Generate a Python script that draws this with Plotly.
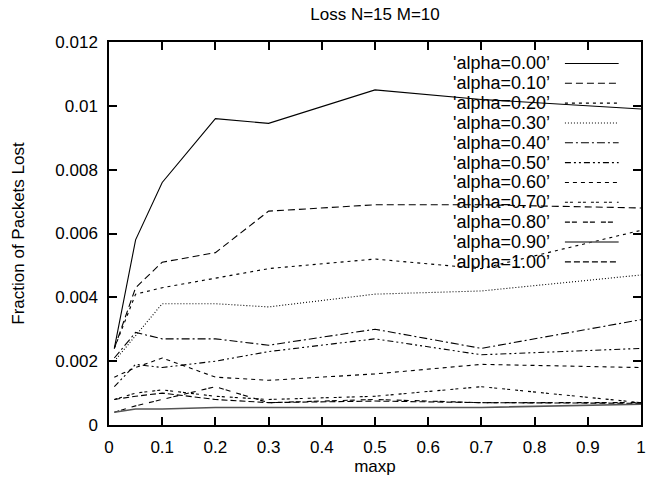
import plotly.graph_objects as go

maxp = [0.01, 0.05, 0.1, 0.2, 0.3, 0.5, 0.7, 1.0]

labels = ["'alpha=0.00’", "'alpha=0.10’", "'alpha=0.20’", "'alpha=0.30’",
          "'alpha=0.40’", "'alpha=0.50’", "'alpha=0.60’", "'alpha=0.70’",
          "'alpha=0.80’", "'alpha=0.90’", "'alpha=1.00’"]

a00 = [0.0024, 0.0058, 0.0076, 0.0096, 0.00945, 0.0105, 0.0102, 0.0099]
a10 = [0.0024, 0.0043, 0.0051, 0.0054, 0.0067, 0.0069, 0.0069, 0.0068]
a20 = [0.0024, 0.0041, 0.0043, 0.0046, 0.0049, 0.0052, 0.0049, 0.0061]
a30 = [0.0020, 0.0028, 0.0038, 0.0038, 0.0037, 0.0041, 0.0042, 0.0047]
a40 = [0.0021, 0.0029, 0.0027, 0.0027, 0.0025, 0.0030, 0.0024, 0.0033]
a50 = [0.0012, 0.0019, 0.0018, 0.0020, 0.0023, 0.0027, 0.0022, 0.0024]
a60 = [0.0015, 0.0018, 0.0021, 0.0015, 0.0014, 0.0016, 0.0019, 0.0018]
a70 = [0.0008, 0.0010, 0.0011, 0.0009, 0.0008, 0.0009, 0.0012, 0.0007]
a80 = [0.0004, 0.0006, 0.0008, 0.0012, 0.0007, 0.0008, 0.0007, 0.0007]
a90 = [0.0004, 0.0005, 0.0005, 0.00055, 0.00055, 0.00055, 0.00055, 0.00065]
a100 = [0.0008, 0.0009, 0.0010, 0.0008, 0.0007, 0.00075, 0.0007, 0.00068]

series = [a00, a10, a20, a30, a40, a50, a60, a70, a80, a90, a100]

dashes = ["solid", "7px,4px", "3px,4px", "1px,2px", "8px,3px,2px,3px",
          "6px,3px,2px,3px,2px,3px", "4px,4px", "3px,2px,3px,5px",
          "5px,2px,5px,6px", "solid", "6px,3px"]
colors = ["#000"] * 9 + ["#555", "#000"]
widths = [1.1] * 9 + [1.6, 1.1]

FONT = "Liberation Sans, Arial, sans-serif"

fig = go.Figure()
for name, ys, d, c, w in zip(labels, series, dashes, colors, widths):
    fig.add_trace(go.Scatter(x=maxp, y=ys, mode="lines", name=name,
                             line=dict(color=c, width=w, dash=d),
                             showlegend=False))

# gnuplot-style key: right-aligned text followed by line sample
top = 0.944
step = 0.0518
for i, (name, d, c, w) in enumerate(zip(labels, dashes, colors, widths)):
    yy = top - i * step
    fig.add_annotation(x=0.833, y=yy, xref="paper", yref="paper", text=name,
                       showarrow=False, xanchor="right", yanchor="middle",
                       font=dict(size=18, color="#000", family=FONT))
    fig.add_shape(type="line", xref="paper", yref="paper",
                  x0=0.857, x1=0.958, y0=yy, y1=yy,
                  line=dict(color=c, width=w, dash=d))

axis_common = dict(showline=True, linecolor="#000", linewidth=1.5, mirror="ticks",
                   ticks="inside", ticklen=8, tickwidth=1.5, tickcolor="#000",
                   showgrid=False, zeroline=False, automargin=False,
                   ticklabeloverflow="allow",
                   tickfont=dict(size=17, color="#000", family=FONT))

fig.update_xaxes(range=[0, 1], dtick=0.1, tick0=0,
                 title=dict(text="maxp", font=dict(size=17, color="#000", family=FONT), standoff=2),
                 ticklabelstandoff=6, **axis_common)
fig.update_yaxes(range=[0, 0.012], dtick=0.002, tick0=0,
                 title=dict(text="Fraction of Packets Lost", font=dict(size=17, color="#000", family=FONT), standoff=26),
                 ticklabelstandoff=6, **axis_common)

fig.update_layout(
    width=647, height=486,
    margin=dict(l=109, r=6, t=42, b=61),
    paper_bgcolor="white", plot_bgcolor="white",
    title=dict(text="Loss N=15 M=10", x=0.5, xref="paper", xanchor="center",
               y=1 - 14 / 486, yref="container", yanchor="middle",
               font=dict(size=17, color="#000", family=FONT)),
    font=dict(family=FONT, color="#000"),
)

fig.write_html("out.html", config={"displayModeBar": False},
               post_script="document.body.style.margin='0px';document.body.style.overflow='hidden';")
